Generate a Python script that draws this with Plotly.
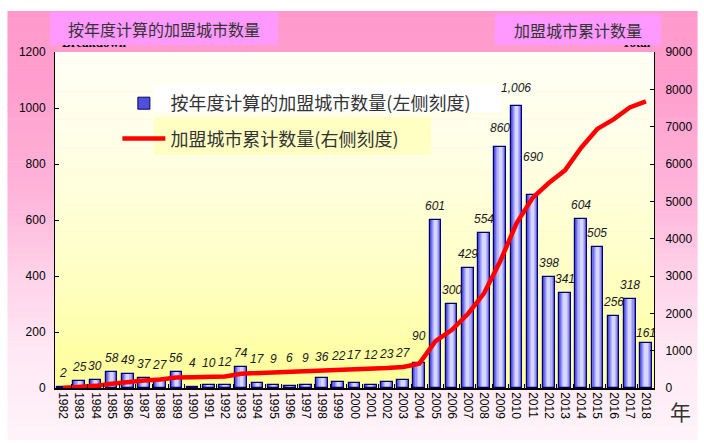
import plotly.graph_objects as go

# Franchise cities: yearly additions (left axis) and running total (right axis)
years = ["1982", "1983", "1984", "1985", "1986", "1987", "1988", "1989", "1990",
         "1991", "1992", "1993", "1994", "1995", "1996", "1997", "1998", "1999",
         "2000", "2001", "2002", "2003", "2004", "2005", "2006", "2007", "2008",
         "2009", "2010", "2011", "2012", "2013", "2014", "2015", "2016", "2017",
         "2018"]
new_cities = [2, 25, 30, 58, 49, 37, 27, 56, 4, 10, 12, 74, 17, 9, 6, 9, 36, 22,
              17, 12, 23, 27, 90, 601, 300, 429, 554, 860, 1006, 690, 398, 341,
              604, 505, 256, 318, 161]
total_cities = [2, 27, 57, 115, 164, 201, 228, 284, 288, 298, 310, 384, 401, 410,
                416, 425, 461, 483, 500, 512, 535, 562, 652, 1253, 1553, 1982,
                2536, 3396, 4402, 5092, 5490, 5831, 6435, 6940, 7196, 7514, 7675]

left_ticks = [0, 200, 400, 600, 800, 1000, 1200]
right_ticks = [0, 1000, 2000, 3000, 4000, 5000, 6000, 7000, 8000, 9000]

W, H = 704, 443
L, R, T, B = 55, 44, 52, 55
PW, PH = W - L - R, H - T - B
LEFT_MAX, RIGHT_MAX = 1200, 9000

CJK = "Noto Sans CJK SC"
LAT = "Liberation Sans, Arial, sans-serif"


def px_x(px):
    return (px - L) / PW


def px_y(py):
    return (H - B - py) / PH


def hex_rgb(h):
    h = h.lstrip("#")
    return tuple(int(h[i:i + 2], 16) for i in (0, 2, 4))


def blend(stops, py):
    for (y0, c0), (y1, c1) in zip(stops, stops[1:]):
        if y0 <= py <= y1:
            t = (py - y0) / (y1 - y0) if y1 > y0 else 0
            a, b = hex_rgb(c0), hex_rgb(c1)
            return "rgb(%d,%d,%d)" % tuple(round(a[i] + (b[i] - a[i]) * t) for i in range(3))
    return stops[-1][1]


def gradient_strips(x0, x1, y0, y1, stops, n):
    out = []
    step = (y1 - y0) / n
    for i in range(n):
        ya = y0 + i * step
        yb = min(y1, ya + step + 0.6)
        out.append(dict(type="rect", xref="paper", yref="paper", layer="below",
                        x0=px_x(x0), x1=px_x(x1), y0=px_y(yb), y1=px_y(ya),
                        line=dict(width=0),
                        fillcolor=blend(stops, ya + step / 2)))
    return out


shapes = []
# page background: pink fading to pale pink
shapes += gradient_strips(7, 704, 11, 440,
                          [(11, "#FF99CC"), (90, "#FF9FCE"), (200, "#FFB6DB"),
                           (270, "#FFD0E8"), (350, "#FFE8F4"), (440, "#FFF3F9")], 60)
# plot area: cream fading to yellow
shapes += gradient_strips(55, 660, 52, 388,
                          [(52, "#FFFFF6"), (150, "#FFFFE6"), (260, "#FFFFC8"),
                           (388, "#FFFF99")], 60)
# legend row backgrounds
shapes.append(dict(type="rect", xref="paper", yref="paper", layer="below",
                   x0=px_x(155), x1=px_x(505), y0=px_y(112), y1=px_y(85),
                   line=dict(width=0), fillcolor="#FFFFFF"))
shapes.append(dict(type="rect", xref="paper", yref="paper", layer="below",
                   x0=px_x(155), x1=px_x(435), y0=px_y(155), y1=px_y(117),
                   line=dict(width=0), fillcolor="#FFFFC4"))

fig = go.Figure()

# bars: stacked narrower layers give a shaded cylinder look
bar_layers = [(0.72, "#5050DC"), (0.60, "#7070EE"), (0.47, "#9494FA"),
              (0.34, "#B6B6FF"), (0.20, "#D6D6FF")]
for i, (w, col) in enumerate(bar_layers):
    fig.add_trace(go.Bar(
        x=years, y=new_cities, width=w,
        marker=dict(color=col, line=dict(width=1 if i == 0 else 0, color="#000070")),
        name="按年度计算的加盟城市数量(左侧刻度)",
        showlegend=(i == 0), legendgroup="bars", hoverinfo="skip" if i else None,
        yaxis="y"))
fig.add_trace(go.Bar(
    x=years, y=new_cities, width=0.72,
    marker=dict(color="rgba(0,0,0,0)", line=dict(width=1.2, color="#000070")),
    showlegend=False, hoverinfo="skip", yaxis="y"))

fig.add_trace(go.Scatter(
    x=years, y=total_cities, mode="lines",
    line=dict(color="#FF0000", width=4.5),
    name="加盟城市累计数量(右侧刻度)", legendgroup="total", yaxis="y2"))

annotations = []
# value labels above each bar; up to 2004 the total line runs just over the
# short bars, so those labels sit above the line instead.
# x is given as the category index so year strings are not read as numbers
extra_shift = {"2004": 27, "2009": 19, "2010": 18, "2011": 38, "2018": 10}
for idx, (yr, v, tot) in enumerate(zip(years, new_cities, total_cities)):
    anchor = max(v, tot * LEFT_MAX / RIGHT_MAX) if int(yr) <= 2004 else v
    annotations.append(dict(
        x=idx, y=anchor, xref="x", yref="y", text=f"{v:,}", showarrow=False,
        yanchor="middle", yshift=extra_shift.get(yr, 14),
        font=dict(family=LAT, size=12, color="#1a1a1a", style="italic")))

# partly hidden axis captions behind the title boxes
annotations.append(dict(xref="paper", yref="paper", x=px_x(60), y=px_y(52),
                        xanchor="left", yanchor="bottom", text="<b>Breakdown</b>",
                        showarrow=False,
                        font=dict(family="Liberation Serif", size=13, color="#000")))
annotations.append(dict(xref="paper", yref="paper", x=px_x(659), y=px_y(52),
                        xanchor="right", yanchor="bottom", text="<b>Total</b>",
                        showarrow=False,
                        font=dict(family="Liberation Serif", size=13, color="#000")))

# title boxes
annotations.append(dict(xref="paper", yref="paper", x=px_x(50), y=px_y(12),
                        xanchor="left", yanchor="top", width=228, height=33,
                        text="按年度计算的加盟城市数量", showarrow=False,
                        bgcolor="#FF99FF", borderpad=0, borderwidth=0,
                        font=dict(family=CJK, size=16, color="#333333")))
annotations.append(dict(xref="paper", yref="paper", x=px_x(499), y=px_y(14),
                        xanchor="left", yanchor="top", width=166, height=31,
                        text="加盟城市累计数量", showarrow=False,
                        bgcolor="#FF99FF", borderpad=0, borderwidth=0,
                        font=dict(family=CJK, size=16, color="#333333")))
annotations.append(dict(xref="paper", yref="paper", x=px_x(687), y=px_y(411),
                        xanchor="center", yanchor="middle", text="年",
                        showarrow=False,
                        font=dict(family=CJK, size=21, color="#333333")))

fig.update_layout(
    width=W, height=H,
    margin=dict(l=L, r=R, t=T, b=B, pad=0),
    paper_bgcolor="#FFFFFF",
    plot_bgcolor="rgba(0,0,0,0)",
    barmode="overlay",
    bargap=0,
    shapes=shapes,
    annotations=annotations,
    showlegend=True,
    legend=dict(x=px_x(118), y=px_y(85), xanchor="left", yanchor="top",
                bgcolor="rgba(0,0,0,0)", borderwidth=0,
                font=dict(family=CJK, size=18, color="#333333"),
                traceorder="grouped", tracegroupgap=9, itemwidth=43),
    xaxis=dict(type="category", categoryorder="array", categoryarray=years,
               range=[-0.5, len(years) - 0.5], tickangle=90,
               tickfont=dict(family=LAT, size=12, color="#000"),
               ticks="inside", tickson="boundaries", ticklen=4, tickcolor="#000",
               showline=True, linecolor="#000", linewidth=1.5,
               showgrid=False, zeroline=False, fixedrange=True),
    yaxis=dict(range=[0, LEFT_MAX], tickvals=left_ticks,
               tickfont=dict(family=LAT, size=12, color="#000"),
               ticks="inside", ticklen=4, tickcolor="#000",
               showline=True, linecolor="#000", linewidth=1,
               showgrid=False, zeroline=False, ticklabelstandoff=6),
    yaxis2=dict(range=[0, RIGHT_MAX], tickvals=right_ticks, overlaying="y",
                side="right", tickfont=dict(family=LAT, size=12, color="#000"),
                ticks="inside", ticklen=4, tickcolor="#000",
                showline=True, linecolor="#000", linewidth=1,
                showgrid=False, zeroline=False, ticklabelstandoff=8),
)

fig.write_html("out.html")
